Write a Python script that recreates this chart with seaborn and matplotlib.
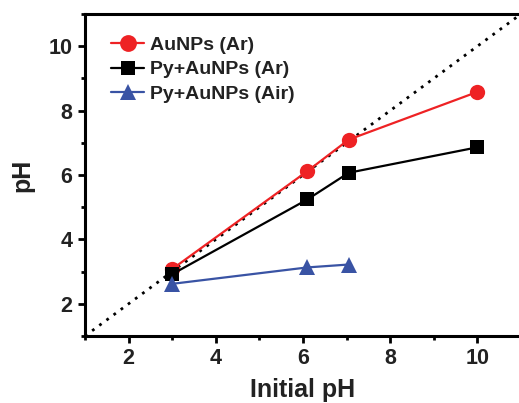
import seaborn as sns
import matplotlib.pyplot as plt
from matplotlib.ticker import MultipleLocator

# data
initial_ph = [3.0, 6.1, 7.05, 10.0]
au_ar = [3.08, 6.12, 7.1, 8.58]
py_au_ar = [2.92, 5.24, 6.07, 6.86]
initial_ph_air = [3.0, 6.1, 7.05]
py_au_air = [2.62, 3.13, 3.22]
diag = [1, 11]

sns.set_theme(style='ticks')
plt.rcParams['font.family'] = ['Liberation Sans', 'DejaVu Sans']
plt.rcParams['font.weight'] = 'bold'

fig = plt.figure(figsize=(5.19, 4.03), dpi=100)
ax = fig.add_axes([85 / 519, 67 / 403, 436 / 519, 322 / 403])

# y = x reference
sns.lineplot(x=diag, y=diag, ax=ax, color='black', linestyle=(0, (1, 2.2)),
             linewidth=2, legend=False)

sns.lineplot(x=initial_ph, y=au_ar, ax=ax, color='#ee2224', marker='o',
             markersize=11, markeredgewidth=0, linewidth=1.6, label='AuNPs (Ar)')
sns.lineplot(x=initial_ph, y=py_au_ar, ax=ax, color='black', marker='s',
             markersize=9.5, markeredgewidth=0, linewidth=1.6, label='Py+AuNPs (Ar)')
sns.lineplot(x=initial_ph_air, y=py_au_air, ax=ax, color='#3953a4', marker='^',
             markersize=11, markeredgewidth=0, linewidth=1.6, label='Py+AuNPs (Air)')

ax.set_xlim(1, 11)
ax.set_ylim(1, 11)
ax.xaxis.set_minor_locator(MultipleLocator(1))
ax.yaxis.set_minor_locator(MultipleLocator(1))
ax.set_xticks([2, 4, 6, 8, 10])
ax.set_yticks([2, 4, 6, 8, 10])

for side in ['left', 'bottom', 'top']:
    ax.spines[side].set_linewidth(2.2)
    ax.spines[side].set_color('black')
ax.spines['right'].set_visible(False)

ax.tick_params(axis='both', which='major', direction='out', length=5, width=2,
               labelsize=15.5, colors='black', pad=4)
ax.tick_params(axis='both', which='minor', direction='out', length=3, width=2,
               colors='black')
for lab in ax.get_xticklabels() + ax.get_yticklabels():
    lab.set_fontweight('bold')
    lab.set_color('#222222')

ax.set_xlabel('Initial pH', fontsize=18, fontweight='bold', color='#222222', labelpad=6)
ax.set_ylabel('pH', fontsize=18, fontweight='bold', color='#222222', labelpad=10)

leg = ax.legend(loc='upper left', bbox_to_anchor=(0.02, 0.985), frameon=False,
                prop={'size': 14, 'weight': 'bold'}, handlelength=1.7,
                handletextpad=0.3, labelspacing=0.35, borderaxespad=0.5,
                markerscale=1.1)
for t in leg.get_texts():
    t.set_color('#222222')

fig.savefig('out.png', dpi=100)
